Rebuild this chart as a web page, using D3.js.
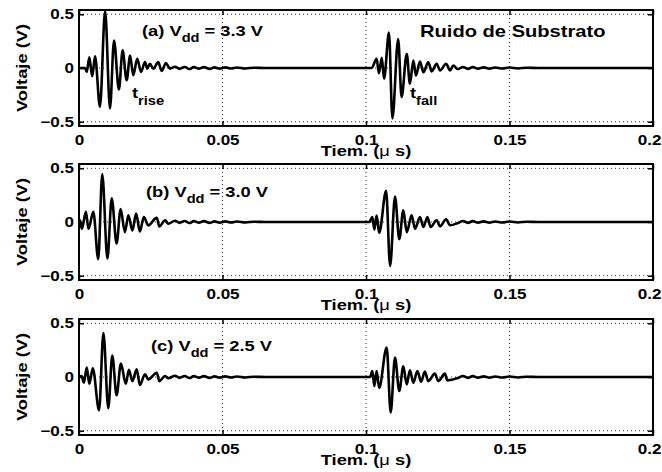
<!DOCTYPE html>
<html>
<head>
<meta charset="utf-8">
<script src="https://cdn.jsdelivr.net/npm/d3@7"></script>
<style>
  html, body { margin: 0; padding: 0; background: #fff; }
  svg { display: block; font-family: "Liberation Sans", Arial, Helvetica, sans-serif; font-weight: bold; }
</style>
</head>
<body>
<svg id="chart" width="662" height="472"></svg>
<script>
// Axis ticks
const timeTicks = [0, 0.05, 0.1, 0.15, 0.2];
const voltTicks = [-0.5, 0, 0.5];

// Panel captions
const panelTags = ["(a)", "(b)", "(c)"];
const vddLabels = ["3.3", "3.0", "2.5"];

// Substrate noise, [time (us), voltage (V)] — ringing after the rising edge
const riseA = [[0,0],[0.0021,0],[0.0027,-0.037],[0.0036,0.10],[0.0046,-0.077],[0.0056,0.108],
  [0.0073,-0.36],[0.0091,0.53],[0.0108,-0.376],[0.0122,0.256],[0.0139,-0.20],[0.0152,0.164],
  [0.0166,-0.114],[0.0178,0.117],[0.0189,-0.068],[0.0203,0.086],[0.0216,-0.037],[0.0230,0.055],
  [0.0238,-0.006],[0.0247,0.040],[0.0259,-0.006],[0.0276,0.055],[0.0288,-0.028],[0.0303,0.046],[0.0317,-0.006]];
const riseB = [[0,0],[0.00035,0.016],[0.0010,-0.063],[0.0024,0.094],[0.0033,-0.063],[0.0050,0.094],
  [0.0067,-0.346],[0.0081,0.447],[0.0099,-0.34],[0.0114,0.22],[0.0131,-0.20],[0.0145,0.12],
  [0.0160,-0.094],[0.0172,0.063],[0.0186,-0.079],[0.0199,0.079],[0.0212,-0.088],[0.0226,0.047],
  [0.0241,-0.031],[0.0271,0.038],[0.0280,-0.041],[0.0300,0.016],[0.0311,-0.016]];
const riseC = [[0,0],[0.0009,0.01],[0.0017,-0.053],[0.0027,0.088],[0.0036,-0.063],[0.0048,0.081],
  [0.0070,-0.31],[0.0085,0.41],[0.0102,-0.29],[0.0116,0.20],[0.0131,-0.17],[0.0146,0.125],
  [0.0163,-0.063],[0.0174,0.066],[0.0186,-0.038],[0.0201,0.072],[0.0212,-0.075],[0.0230,0.025],
  [0.0241,-0.022],[0.0271,0.040],[0.0280,-0.038],[0.0300,0.010],[0.0311,-0.012]];

// Ringing after the falling edge
const fallA = [[0.1020,0],[0.1037,0.085],[0.1045,-0.048],[0.1055,0.094],[0.1063,-0.10],[0.1080,0.33],
  [0.1092,-0.47],[0.1112,0.27],[0.1124,-0.27],[0.1142,0.13],[0.1153,-0.147],[0.1165,0.07],
  [0.1174,-0.07],[0.1188,0.06],[0.1200,-0.04],[0.1217,0.054],[0.1229,-0.032],[0.1246,0.04],
  [0.1258,-0.023],[0.1279,0.04],[0.1293,-0.023],[0.1304,0.023]];
const fallB = [[0.1012,0],[0.1022,0.047],[0.1029,-0.07],[0.1037,0.06],[0.1046,-0.10],[0.1070,0.29],
  [0.1084,-0.41],[0.1101,0.236],[0.1116,-0.16],[0.1130,0.11],[0.1142,-0.094],[0.1159,0.063],
  [0.1171,-0.063],[0.1188,0.047],[0.1200,-0.047],[0.1214,0.047],[0.1225,-0.047],[0.1246,0.016],
  [0.1258,-0.04],[0.1279,0.025],[0.1293,-0.03]];
const fallC = [[0.1014,0],[0.1022,0.056],[0.1029,-0.084],[0.1037,0.056],[0.1046,-0.10],[0.1072,0.275],
  [0.1086,-0.33],[0.1101,0.18],[0.1116,-0.13],[0.1130,0.10],[0.1142,-0.07],[0.1153,0.063],
  [0.1165,-0.053],[0.1179,0.056],[0.1192,-0.044],[0.1205,0.05],[0.1217,-0.038],[0.1240,0.031],
  [0.1252,-0.038],[0.1275,0.031],[0.1283,-0.031]];

// Low-level residual ripple that follows each burst
const tailRise = [[0.0335,0.012],[0.0350,-0.008],[0.0368,0.010],[0.0385,-0.010],[0.0400,0.008],
  [0.0418,-0.006],[0.0435,0.008],[0.0455,-0.008],[0.0472,0.006],[0.0490,-0.006],[0.0510,0.006],
  [0.0530,-0.004],[0.0550,0.005],[0.0580,-0.004],[0.0610,0.003],[0.0650,0],[0.1000,0]];
const tailFall = [[0.1320,-0.010],[0.1338,0.010],[0.1355,-0.008],[0.1372,0.008],[0.1390,-0.006],
  [0.1410,0.006],[0.1430,-0.006],[0.1450,0.005],[0.1475,-0.005],[0.1500,0.004],[0.1530,-0.004],
  [0.1560,0.003],[0.1600,0],[0.2000,0]];

const panels = [
  { tag: panelTags[0], vdd: vddLabels[0], rise: riseA, fall: fallA, top: 10,  tagX: 142, tagY: 36 },
  { tag: panelTags[1], vdd: vddLabels[1], rise: riseB, fall: fallB, top: 164, tagX: 146, tagY: 197 },
  { tag: panelTags[2], vdd: vddLabels[2], rise: riseC, fall: fallC, top: 319, tagX: 151, tagY: 351 }
];

const S = 1.22;            // horizontal widening of the bold lettering
const PH = 116;            // panel height
const svg = d3.select("#chart");
const x = d3.scaleLinear().domain([0, 0.2]).range([79, 653]);
const fmtV = d => d < 0 ? "\u2212" + Math.abs(d) : String(d);

function widen(sel) {
  sel.each(function () {
    const t = d3.select(this);
    t.attr("x", (+t.attr("x") || 0) / S).attr("transform", `scale(${S},1)`);
  });
}

panels.forEach(p => {
  const top = p.top, bottom = top + PH;
  const y = d3.scaleLinear().domain([-0.54, 0.54]).range([bottom, top]);
  const g = svg.append("g");

  // dotted grid
  g.selectAll("line.vg").data(timeTicks.slice(1, -1)).join("line")
    .attr("class", "vg").attr("x1", d => x(d)).attr("x2", d => x(d))
    .attr("y1", top).attr("y2", bottom)
    .attr("stroke", "#333").attr("stroke-width", 1).attr("stroke-dasharray", "1,3");
  g.selectAll("line.hg").data(voltTicks).join("line")
    .attr("class", "hg").attr("x1", x(0)).attr("x2", x(0.2))
    .attr("y1", d => y(d)).attr("y2", d => y(d))
    .attr("stroke", "#333").attr("stroke-width", 1).attr("stroke-dasharray", "1,3");

  // waveform
  const pts = [].concat(p.rise, tailRise, p.fall, tailFall);
  const line = d3.line().x(d => x(d[0])).y(d => y(d[1])).curve(d3.curveMonotoneX);
  g.append("path").datum(pts).attr("d", line)
    .attr("fill", "none").attr("stroke", "#000").attr("stroke-width", 2.6)
    .attr("stroke-linejoin", "round");

  // axes with inward ticks on all four sides
  const styleAxis = a => {
    a.attr("font-size", null).attr("font-family", null);
    a.select(".domain").remove();
    a.selectAll(".tick line").attr("stroke", "#000").attr("stroke-width", 1.5);
    a.selectAll(".tick text").attr("fill", "#000").style("font-size", "14px");
  };
  const xb = g.append("g").attr("transform", `translate(0,${bottom})`)
    .call(d3.axisBottom(x).tickValues(timeTicks).tickSizeInner(-5).tickSizeOuter(0)
      .tickPadding(9).tickFormat(d => String(d)));
  styleAxis(xb);
  // keep the last label inside the page edge
  xb.selectAll(".tick text").filter(d => d === timeTicks[timeTicks.length - 1]).attr("x", -4);
  widen(xb.selectAll(".tick text"));
  const xt = g.append("g").attr("transform", `translate(0,${top})`)
    .call(d3.axisTop(x).tickValues(timeTicks).tickSizeInner(-5).tickSizeOuter(0).tickFormat(""));
  styleAxis(xt);
  const yl = g.append("g").attr("transform", `translate(${x(0)},0)`)
    .call(d3.axisLeft(y).tickValues(voltTicks).tickSizeInner(-5).tickSizeOuter(0)
      .tickPadding(5).tickFormat(fmtV));
  styleAxis(yl); widen(yl.selectAll(".tick text"));
  const yr = g.append("g").attr("transform", `translate(${x(0.2)},0)`)
    .call(d3.axisRight(y).tickValues(voltTicks).tickSizeInner(-5).tickSizeOuter(0).tickFormat(""));
  styleAxis(yr);

  // frame
  g.append("rect").attr("x", x(0)).attr("y", top).attr("width", x(0.2) - x(0)).attr("height", PH)
    .attr("fill", "none").attr("stroke", "#000").attr("stroke-width", 2);

  // axis titles
  const xl = g.append("text").attr("text-anchor", "middle").attr("font-size", 15)
    .attr("transform", `translate(${(x(0) + x(0.2)) / 2},${bottom + 30}) scale(${S},1)`);
  xl.append("tspan").text("Tiem. (");
  xl.append("tspan").attr("font-weight", "normal").text("\u03bc");
  xl.append("tspan").text(" s)");
  g.append("text").attr("text-anchor", "middle").attr("font-size", 15)
    .attr("transform", `translate(27,${top + PH / 2}) rotate(-90) scale(${S},1)`)
    .text("Voltaje (V)");

  // supply-voltage caption
  const cap = g.append("text").attr("font-size", 15)
    .attr("transform", `translate(${p.tagX},${p.tagY}) scale(${S},1)`);
  cap.append("tspan").text(p.tag + " V");
  cap.append("tspan").attr("font-size", 12).attr("dy", 6).text("dd");
  cap.append("tspan").attr("dy", -6).text(" = " + p.vdd + " V");
});

// annotations on the first panel
svg.append("text").attr("font-size", 16.5)
  .attr("transform", `translate(420,36.5) scale(${S},1)`).text("Ruido de Substrato");
function edgeLabel(px, py, sub) {
  const t = svg.append("text").attr("font-size", 15)
    .attr("transform", `translate(${px},${py}) scale(${S},1)`);
  t.append("tspan").text("t");
  t.append("tspan").attr("font-size", 12).attr("dy", 7).text(sub);
}
edgeLabel(132, 98, "rise");
edgeLabel(410, 98, "fall");
</script>
</body>
</html>
